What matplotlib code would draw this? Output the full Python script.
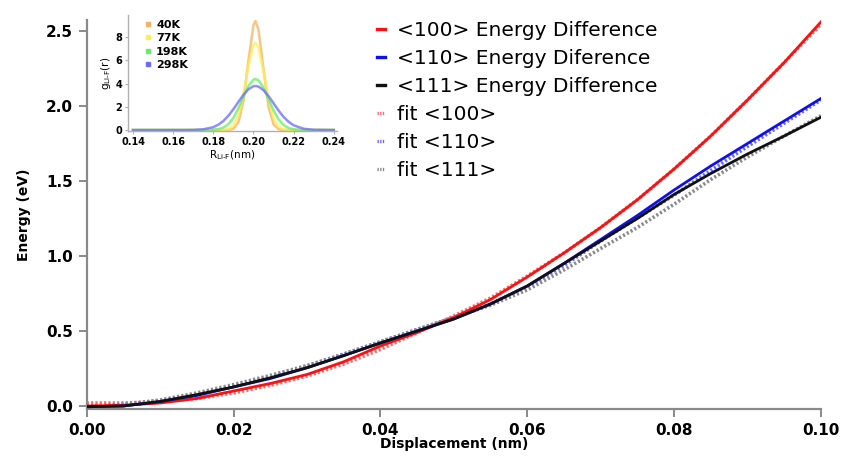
import matplotlib
matplotlib.use("Agg")
import matplotlib.pyplot as plt
from matplotlib.lines import Line2D

# ---------------- main data ----------------
displacement = [0.000, 0.005, 0.010, 0.015, 0.020, 0.025, 0.030, 0.035, 0.040, 0.045,
                0.050, 0.055, 0.060, 0.065, 0.070, 0.075, 0.080, 0.085, 0.090, 0.095, 0.100]

e100 = [0.00, 0.005, 0.02, 0.05, 0.10, 0.15, 0.21, 0.295, 0.40, 0.49,
        0.59, 0.71, 0.86, 1.02, 1.19, 1.375, 1.58, 1.80, 2.04, 2.29, 2.56]
e110 = [-0.005, 0.00, 0.03, 0.07, 0.127, 0.183, 0.255, 0.336, 0.42, 0.50,
        0.58, 0.68, 0.80, 0.95, 1.11, 1.27, 1.44, 1.60, 1.75, 1.90, 2.05]
e111 = [-0.005, 0.00, 0.03, 0.076, 0.127, 0.188, 0.255, 0.336, 0.42, 0.50,
        0.58, 0.68, 0.80, 0.95, 1.10, 1.25, 1.41, 1.55, 1.68, 1.80, 1.925]

fit100 = [0.02, 0.02, 0.03, 0.05, 0.087, 0.138, 0.20, 0.28, 0.377, 0.49,
          0.60, 0.72, 0.866, 1.02, 1.19, 1.375, 1.58, 1.80, 2.04, 2.29, 2.545]
fit110 = [0.00, 0.01, 0.036, 0.076, 0.132, 0.194, 0.265, 0.346, 0.428, 0.51,
          0.59, 0.68, 0.795, 0.937, 1.10, 1.253, 1.406, 1.57, 1.73, 1.885, 2.04]
fit111 = [0.00, 0.01, 0.04, 0.087, 0.143, 0.204, 0.27, 0.346, 0.428, 0.51,
          0.59, 0.672, 0.774, 0.907, 1.05, 1.19, 1.345, 1.51, 1.66, 1.80, 1.935]

legend_labels = ["<100> Energy Difference", "<110> Energy Diference", "<111> Energy Difference",
                 "fit <100>", "fit <110>", "fit <111>"]

# ---------------- inset data ----------------
r_lif = [0.14, 0.16, 0.165, 0.17, 0.175, 0.18, 0.1825, 0.185, 0.1875, 0.19, 0.1925, 0.195, 0.1975,
         0.20, 0.201, 0.2025, 0.205, 0.2075, 0.21, 0.2125, 0.215, 0.2175, 0.22, 0.225, 0.23, 0.24]
g40 = [0, 0, 0, 0, 0, 0, 0, 0, 0.01, 0.11, 0.67, 2.5, 6.0, 9.06, 9.4, 8.66, 5.24, 2.01, 0.49,
       0.075, 0.007, 0, 0, 0, 0, 0]
g77 = [0, 0, 0, 0, 0, 0, 0, 0.013, 0.08, 0.38, 1.26, 3.08, 5.54, 7.32, 7.5, 7.09, 5.05, 2.64, 1.02,
       0.29, 0.06, 0.009, 0, 0, 0, 0]
g198 = [0, 0, 0, 0, 0.0015, 0.024, 0.077, 0.21, 0.51, 1.05, 1.87, 2.87, 3.81, 4.35, 4.4, 4.28, 3.64,
        2.67, 1.69, 0.92, 0.43, 0.176, 0.062, 0.005, 0, 0]
g298 = [0, 0, 0.0013, 0.01, 0.06, 0.25, 0.46, 0.78, 1.23, 1.80, 2.43, 3.04, 3.52, 3.78, 3.8, 3.75,
        3.44, 2.93, 2.31, 1.68, 1.13, 0.71, 0.41, 0.11, 0.02, 0]
temps = ["40K", "77K", "198K", "298K"]

# ---------------- figure ----------------
fig = plt.figure(figsize=(8.42, 4.62), dpi=100)
ax = fig.add_axes([0.103, 0.1147, 0.872, 0.842])

spine_col = "#8a8a8a"
data_cols = ["#ff1010", "#1010ee", "#111111"]
fit_cols = ["#ff6a6a", "#6a6aff", "#8a8a8a"]

for y, c in zip([e100, e110, e111], data_cols):
    ax.plot(displacement, y, color=c, lw=2.0, zorder=3)
for y, c in zip([fit100, fit110, fit111], fit_cols):
    ax.plot(displacement, y, color=c, lw=2.6, ls=(0, (0.6, 0.6)), zorder=2)

ax.set_xlim(0, 0.1)
ax.set_ylim(-0.02, 2.573)
ax.set_xticks([0.00, 0.02, 0.04, 0.06, 0.08, 0.10])
ax.set_xticklabels(["0.00", "0.02", "0.04", "0.06", "0.08", "0.10"])
ax.set_yticks([0.0, 0.5, 1.0, 1.5, 2.0, 2.5])
ax.set_yticklabels(["0.0", "0.5", "1.0", "1.5", "2.0", "2.5"])
for s in ["top", "right"]:
    ax.spines[s].set_visible(False)
for s in ["left", "bottom"]:
    ax.spines[s].set_color(spine_col)
    ax.spines[s].set_linewidth(1.6)
ax.tick_params(direction="out", length=6, width=1.4, color=spine_col,
               labelsize=11, pad=4)
for t in ax.get_xticklabels() + ax.get_yticklabels():
    t.set_fontweight("semibold")
ax.set_xlabel("Displacement (nm)", fontsize=10, fontweight="semibold", labelpad=-1)
ax.set_ylabel("Energy (eV)", fontsize=10, fontweight="semibold", labelpad=11)

handles = [Line2D([], [], color=c, lw=2.4) for c in data_cols] + \
          [Line2D([], [], color=c, lw=2.4, ls=(0, (0.4, 0.4))) for c in fit_cols]
leg = fig.legend(handles, legend_labels, loc="upper left", bbox_to_anchor=(0.4474, 0.955),
                 frameon=False, fontsize=14.5, handlelength=0.4, handletextpad=0.6,
                 labelspacing=0.45, borderaxespad=0, borderpad=0)

# ---------------- inset ----------------
ins = fig.add_axes([0.152, 0.716, 0.248, 0.251])
ins_cols = ["#f7b060", "#fff050", "#66ee66", "#6a6aff"]
for g, c, lab in zip([g40, g77, g198, g298], ins_cols, temps):
    ins.plot(r_lif, g, color=c, lw=1.8, alpha=0.75, label=lab)
ins.set_xlim(0.1375, 0.2415)
ins.set_ylim(-0.1, 9.9)
ins.set_xticks([0.14, 0.16, 0.18, 0.20, 0.22, 0.24])
ins.set_xticklabels(["0.14", "0.16", "0.18", "0.20", "0.22", "0.24"])
ins.set_yticks([0, 2, 4, 6, 8])
for s in ["top", "right"]:
    ins.spines[s].set_visible(False)
for s in ["left", "bottom"]:
    ins.spines[s].set_color("#b0b0b0")
    ins.spines[s].set_linewidth(1.0)
ins.tick_params(direction="out", length=2.5, width=0.8, color="#b0b0b0", labelsize=7, pad=1.5)
for t in ins.get_xticklabels() + ins.get_yticklabels():
    t.set_fontweight("bold")
ins.set_xlabel(r"R$_{\mathregular{Li\text{-}F}}$(nm)", fontsize=7.5, labelpad=1)
ins.set_ylabel(r"g$_{\mathregular{Li\text{-}F}}$($\mathregular{r}$)", fontsize=7.5, labelpad=2)
ih = [Line2D([], [], color=c, marker="s", ms=3, ls="none") for c in ins_cols]
ins.legend(ih, temps, loc="upper left", bbox_to_anchor=(0.081, 0.96), frameon=False,
           handlelength=0.6, handletextpad=0.4, labelspacing=0.3,
           borderaxespad=0, borderpad=0, prop={"weight": "bold", "size": 8})

fig.savefig("out.png", dpi=100)
